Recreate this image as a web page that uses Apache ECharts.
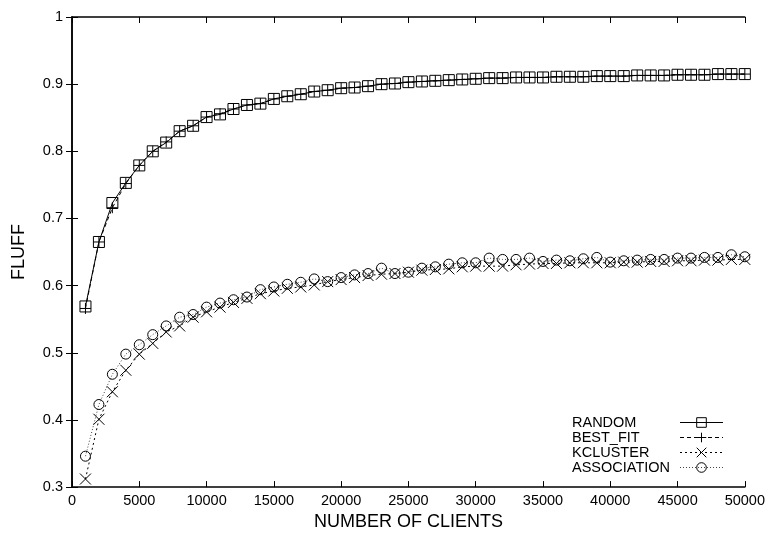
<!DOCTYPE html>
<html>
<head>
<meta charset="utf-8">
<script src="https://cdn.jsdelivr.net/npm/echarts@6/dist/echarts.min.js"></script>
<style>
  html, body { margin: 0; padding: 0; background: #fff; }
  #chart { width: 768px; height: 536px; }
</style>
</head>
<body>
<div id="chart"></div>
<script>
// number of clients (x)
var clients = [1000, 2000, 3000, 4000, 5000, 6000, 7000, 8000, 9000, 10000,
  11000, 12000, 13000, 14000, 15000, 16000, 17000, 18000, 19000, 20000,
  21000, 22000, 23000, 24000, 25000, 26000, 27000, 28000, 29000, 30000,
  31000, 32000, 33000, 34000, 35000, 36000, 37000, 38000, 39000, 40000,
  41000, 42000, 43000, 44000, 45000, 46000, 47000, 48000, 49000, 50000];

var names = ["RANDOM", "BEST_FIT", "KCLUSTER", "ASSOCIATION"];

// FLUFF values
var random = [0.569, 0.665, 0.723, 0.753, 0.779, 0.800, 0.813, 0.830, 0.838, 0.851,
  0.855, 0.863, 0.869, 0.871, 0.878, 0.882, 0.885, 0.889, 0.891, 0.894,
  0.895, 0.897, 0.900, 0.901, 0.903, 0.904, 0.905, 0.906, 0.907, 0.908,
  0.909, 0.909, 0.910, 0.910, 0.910, 0.911, 0.911, 0.911, 0.912, 0.912,
  0.912, 0.913, 0.913, 0.913, 0.914, 0.914, 0.914, 0.915, 0.915, 0.915];
var bestFit = [0.566, 0.665, 0.716, 0.752, 0.779, 0.800, 0.814, 0.830, 0.838, 0.851,
  0.856, 0.863, 0.869, 0.871, 0.878, 0.882, 0.885, 0.889, 0.891, 0.894,
  0.895, 0.897, 0.900, 0.901, 0.903, 0.904, 0.905, 0.906, 0.907, 0.908,
  0.909, 0.909, 0.910, 0.910, 0.910, 0.911, 0.911, 0.911, 0.912, 0.912,
  0.912, 0.913, 0.913, 0.913, 0.914, 0.914, 0.914, 0.915, 0.915, 0.915];
var kcluster = [0.312, 0.401, 0.442, 0.474, 0.498, 0.514, 0.531, 0.540, 0.553, 0.561,
  0.568, 0.575, 0.581, 0.588, 0.592, 0.596, 0.598, 0.601, 0.606, 0.609,
  0.612, 0.615, 0.617, 0.618, 0.620, 0.623, 0.624, 0.625, 0.628, 0.629,
  0.629, 0.629, 0.631, 0.632, 0.633, 0.633, 0.634, 0.634, 0.634, 0.634,
  0.635, 0.635, 0.636, 0.636, 0.637, 0.637, 0.638, 0.638, 0.639, 0.639];
var association = [0.346, 0.423, 0.468, 0.498, 0.512, 0.527, 0.540, 0.553, 0.557, 0.568,
  0.574, 0.579, 0.583, 0.594, 0.598, 0.602, 0.605, 0.610, 0.606, 0.612,
  0.616, 0.618, 0.626, 0.618, 0.620, 0.626, 0.628, 0.632, 0.634, 0.634,
  0.641, 0.639, 0.639, 0.641, 0.636, 0.638, 0.637, 0.640, 0.642, 0.635,
  0.637, 0.638, 0.639, 0.639, 0.641, 0.641, 0.642, 0.642, 0.646, 0.643];

// gnuplot style point shapes
var symSquare = "path://M0,0L10,0L10,10L0,10Z";
var symPlus = "path://M5,0L5,10M0,5L10,5";
var symCross = "path://M0,0L10,10M10,0L0,10";
var symCircle = "path://M10,5A5,5,0,1,1,0,5A5,5,0,1,1,10,5Z";

var font = "'Liberation Sans', Arial, Helvetica, sans-serif";

function pairs(ys) {
  return clients.map(function (x, i) { return [x, ys[i]]; });
}

function makeSeries(name, ys, symbol, size, dash, color) {
  return {
    name: name,
    type: "line",
    data: pairs(ys),
    symbol: symbol,
    symbolSize: size,
    showAllSymbol: true,
    lineStyle: { color: color, width: 1, type: dash },
    itemStyle: { color: "transparent", borderColor: "#000", borderWidth: 1 },
    emphasis: { disabled: true }
  };
}

var chart = echarts.init(document.getElementById("chart"));
chart.setOption({
  animation: false,
  backgroundColor: "#fff",
  textStyle: { fontFamily: font, color: "#000" },
  grid: { left: 72, right: 21, top: 17, bottom: 44 },
  legend: {
    orient: "vertical",
    left: 572,
    top: 415,
    padding: 0,
    itemGap: 0,
    itemWidth: 43,
    itemHeight: 12,
    align: "right",
    selectedMode: false,
    data: names,
    lineStyle: { width: 1 },
    itemStyle: { borderWidth: 1 },
    formatter: "{a|{name}}",
    textStyle: {
      fontFamily: font,
      fontSize: 14.5,
      color: "#000",
      rich: { a: { width: 103, align: "left", fontSize: 14.5, lineHeight: 15, fontFamily: font } }
    }
  },
  xAxis: [{
    type: "value",
    min: 0, max: 50000, interval: 5000,
    name: "NUMBER OF CLIENTS",
    nameLocation: "middle",
    nameGap: 24,
    nameTextStyle: { fontSize: 18, color: "#000", fontFamily: font },
    axisLine: { lineStyle: { color: "#000", width: 1.5 } },
    axisTick: { inside: true, length: 6, lineStyle: { color: "#000" } },
    axisLabel: {
      fontSize: 14.5, color: "#000", margin: 6, fontFamily: font,
      formatter: function (v) { return String(v); }
    },
    splitLine: { show: false }
  }, {
    type: "value",
    position: "top",
    min: 0, max: 50000, interval: 5000,
    axisLine: { lineStyle: { color: "#000", width: 1.5 } },
    axisTick: { inside: true, length: 6, lineStyle: { color: "#000" } },
    axisLabel: { show: false },
    splitLine: { show: false }
  }],
  yAxis: [{
    type: "value",
    min: 0.3, max: 1, interval: 0.1,
    name: "FLUFF",
    nameLocation: "middle",
    nameGap: 44,
    nameTextStyle: { fontSize: 18, color: "#000", fontFamily: font },
    axisLine: { show: true, lineStyle: { color: "#000", width: 1.5 } },
    axisTick: { show: true, inside: true, length: 6, lineStyle: { color: "#000" } },
    axisLabel: { fontSize: 14.5, color: "#000", margin: 9, fontFamily: font },
    splitLine: { show: false }
  }, {
    type: "value",
    position: "right",
    min: 0.3, max: 1, interval: 0.1,
    axisLine: { show: true, lineStyle: { color: "#000", width: 1.5 } },
    axisTick: { show: true, inside: true, length: 6, lineStyle: { color: "#000" } },
    axisLabel: { show: false },
    splitLine: { show: false }
  }],
  series: [
    makeSeries(names[0], random, symSquare, 11, "solid", "#000"),
    makeSeries(names[1], bestFit, symPlus, 11, [4, 3], "#000"),
    makeSeries(names[2], kcluster, symCross, 11, [2, 3], "#000"),
    makeSeries(names[3], association, symCircle, 10, [1, 2], "#444")
  ]
});
</script>
</body>
</html>
